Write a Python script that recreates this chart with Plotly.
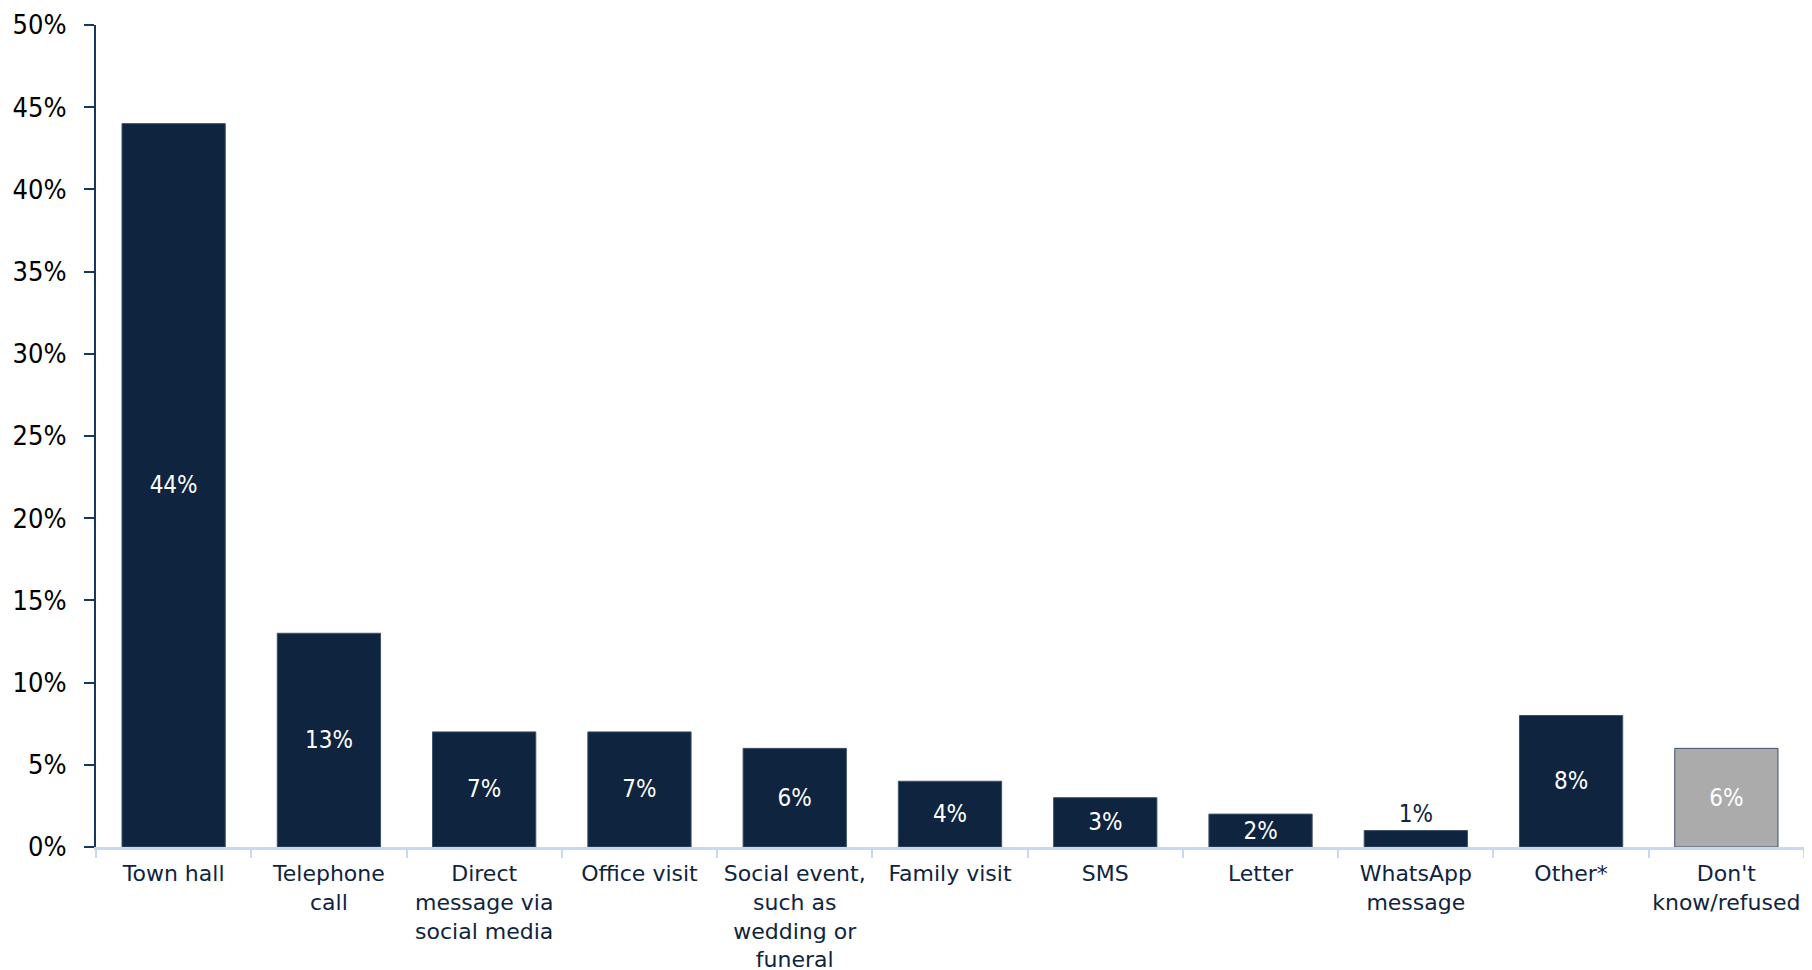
import plotly.graph_objects as go

categories = ["Town hall", "Telephone<br>call", "Direct<br>message via<br>social media", "Office visit",
              "Social event,<br>such as<br>wedding or<br>funeral", "Family visit", "SMS", "Letter",
              "WhatsApp<br>message", "Other*", "Don't<br>know/refused"]
values = [44, 13, 7, 7, 6, 4, 3, 2, 1, 8, 6]
labels = ["44%", "13%", "7%", "7%", "6%", "4%", "3%", "2%", "1%", "8%", "6%"]
y_ticks = [0, 5, 10, 15, 20, 25, 30, 35, 40, 45, 50]
y_tick_text = [f"{t}%" for t in y_ticks]

NAVY = "#0F243E"
GRAY = "#ABABAB"
colors = [NAVY] * 10 + [GRAY]
textpos = ["inside"] * 8 + ["outside"] + ["inside"] * 2
textcolors = ["white"] * 8 + [NAVY] + ["white"] * 2

FONT_C = "DejaVu Sans Condensed, DejaVu Sans, sans-serif"
FONT = "DejaVu Sans, sans-serif"

fig = go.Figure(go.Bar(
    x=categories, y=values, text=labels, textposition=textpos,
    insidetextanchor="middle", constraintext="none",
    textfont=dict(family=FONT_C, size=24, color=textcolors),
    marker=dict(color=colors, line=dict(color="#3E5068", width=1)),
    cliponaxis=False,
))

fig.update_layout(
    width=1812, height=970,
    margin=dict(l=88, r=16, t=17, b=131),
    paper_bgcolor="white", plot_bgcolor="white",
    bargap=0.335, showlegend=False,
    font=dict(family=FONT),
)
fig.update_yaxes(
    range=[0, 50], tickvals=y_ticks, ticktext=y_tick_text,
    showgrid=False, zeroline=False, automargin=False,
    showline=True, linecolor="#17375E", linewidth=2,
    ticks="outside", ticklen=10, tickcolor="#17375E", tickwidth=2,
    tickfont=dict(family=FONT_C, size=27, color="black"),
    ticklabelstandoff=12, ticklabeloverflow="allow",
)
fig.update_xaxes(
    showgrid=False, zeroline=False, automargin=False,
    showline=True, linecolor="#C6D9F1", linewidth=3,
    ticks="outside", tickson="boundaries", ticklen=8, tickcolor="#C6D9F1", tickwidth=2,
    tickfont=dict(family=FONT, size=22, color=NAVY),
    tickangle=0, ticklabelstandoff=5, ticklabeloverflow="allow",
)

fig.write_html("out.html")
